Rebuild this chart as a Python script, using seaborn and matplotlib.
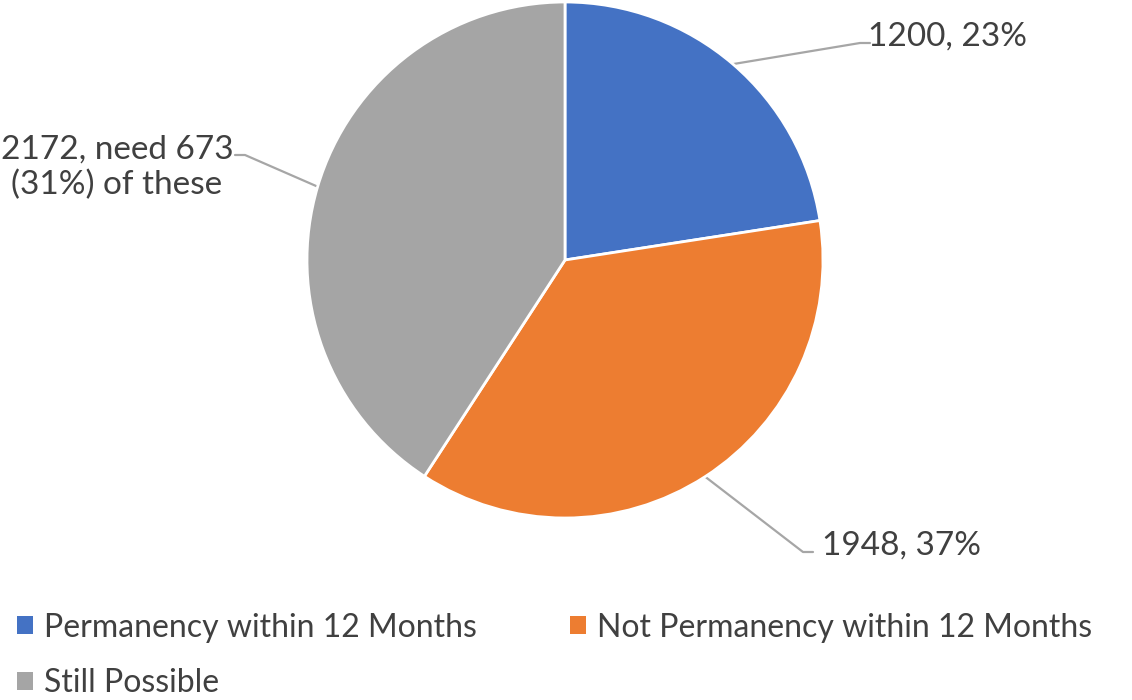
import matplotlib.pyplot as plt
import numpy as np
import seaborn as sns
from matplotlib.patches import Patch

categories = ["Permanency within 12 Months", "Not Permanency within 12 Months", "Still Possible"]
counts = [1200, 1948, 2172]
labels = ["1200, 23%", "1948, 37%", "2172, need 673\n(31%) of these"]
colors = ["#4472C4", "#ED7D31", "#A5A5A5"]

sns.set_style("white")
plt.rcParams["font.family"] = ["Lato", "DejaVu Sans"]
text_color = "#404040"

fig = plt.figure(figsize=(11.32, 7.0), dpi=100)
ax = fig.add_axes([0, 0, 1, 1])

center = (565, 440)
radius = 258
wedges, _ = ax.pie(
    counts,
    colors=colors,
    startangle=90,
    counterclock=False,
    center=center,
    radius=radius,
    wedgeprops={"edgecolor": "white", "linewidth": 2},
    frame=True,
)
ax.set_xlim(0, 1132)
ax.set_ylim(0, 700)
ax.set_aspect("equal")
ax.axis("off")

# label anchor: (elbow x, elbow y, text x, text y, ha)
anchors = [
    (860, 657, 868, 663, "left"),
    (803, 148, 822, 154, "left"),
    (245, 545, 117, 533, "center"),
]
for w, lab, (ex, ey, tx, ty, ha) in zip(wedges, labels, anchors):
    ang = np.deg2rad((w.theta1 + w.theta2) / 2)
    sx = center[0] + radius * np.cos(ang)
    sy = center[1] + radius * np.sin(ang)
    hx = ex + 10 if ha == "left" else ex - 10
    ax.plot([sx, ex, hx], [sy, ey, ey], color="#A6A6A6", lw=1.6, zorder=0)
    ax.text(tx, ty, lab, ha=ha, va="center", fontsize=24, color=text_color,
            multialignment="center", linespacing=1.2)

# legend fills column-wise, so reorder to read row by row
order = [0, 2, 1]
handles = [Patch(facecolor=colors[i], edgecolor="none") for i in order]
fig.legend(
    handles, [categories[i] for i in order], loc="upper left",
    bbox_to_anchor=(0.004, 0.143),
    ncol=2, frameon=False, fontsize=23, labelcolor=text_color,
    handlelength=0.5, handleheight=0.5, handletextpad=0.35,
    columnspacing=2.9, labelspacing=0.8, borderaxespad=0,
)

fig.savefig("out.png", dpi=100)
